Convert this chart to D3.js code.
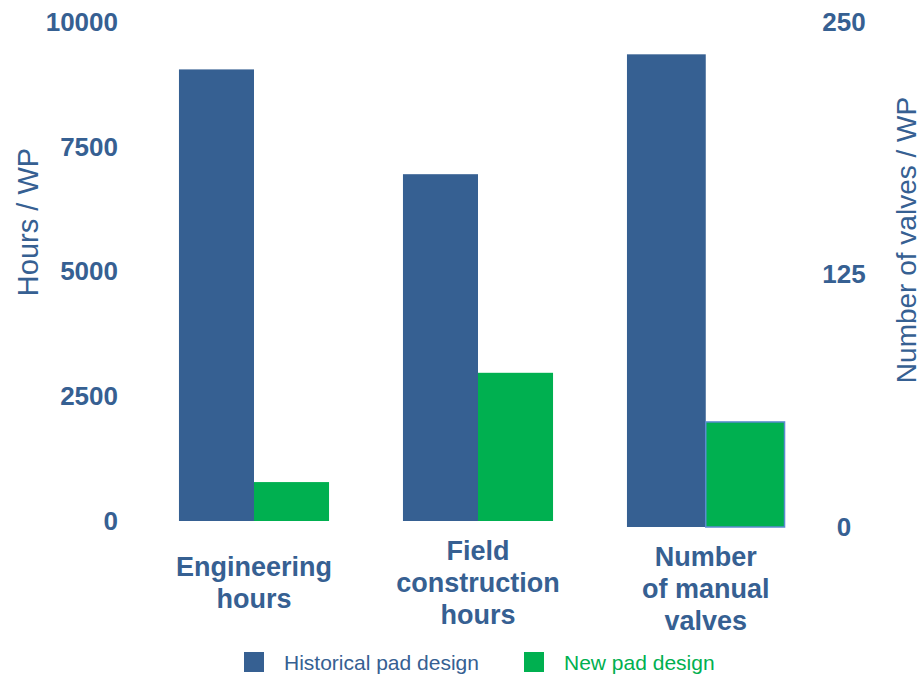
<!DOCTYPE html>
<html>
<head>
<meta charset="utf-8">
<script src="https://cdn.jsdelivr.net/npm/d3@7"></script>
<style>
  html, body { margin: 0; padding: 0; background: #fff; }
  svg { display: block; font-family: Arial, "Liberation Sans", sans-serif; }
</style>
</head>
<body>
<svg id="chart" width="921" height="675"></svg>
<script>
// Categories and their multi-line labels
const categories = ["Engineering hours", "Field construction hours", "Number of manual valves"];
const categoryLines = [["Engineering", "hours"], ["Field", "construction", "hours"], ["Number", "of manual", "valves"]];
// Which axis each category is measured against
const categoryAxis = ["left", "left", "right"];

// Series values
const seriesNames = ["Historical pad design", "New pad design"];
const historical = [9050, 6950, 234];
const newDesign = [780, 2970, 52];

// Tick labels
const leftTicks = [0, 2500, 5000, 7500, 10000];
const rightTicks = [0, 125, 250];

const blue = "#366092";
const green = "#00b050";
const font = "Arial, 'Liberation Sans', sans-serif";

const svg = d3.select("#chart");

const yLeft = d3.scaleLinear().domain([0, 10000]).range([521, 22]);
const yRight = d3.scaleLinear().domain([0, 250]).range([527, 22]);
const scaleFor = a => a === "left" ? yLeft : yRight;

const x = d3.scaleBand().domain(categories).range([142, 814])
  .paddingInner(0.33).paddingOuter(0.165);

const seriesValues = [historical, newDesign];
const seriesColors = [blue, green];

// Bars (the valve group, on the secondary axis, is drawn slightly wider)
categories.forEach((c, i) => {
  const y = scaleFor(categoryAxis[i]);
  const groupW = categoryAxis[i] === "right" ? x.bandwidth() * 1.05 : x.bandwidth();
  const xs = d3.scaleBand().domain(seriesNames).range([x(c), x(c) + groupW]);
  seriesNames.forEach((s, j) => {
    const v = seriesValues[j][i];
    const r = svg.append("rect")
      .attr("x", xs(s))
      .attr("y", y(v))
      .attr("width", xs.bandwidth())
      .attr("height", y(0) - y(v))
      .attr("fill", seriesColors[j]);
    if (categoryAxis[i] === "right" && j === 1) {
      r.attr("stroke", "#5b8bd0").attr("stroke-width", 1.5);
    }
  });
});

// Left axis (labels only)
const leftAxis = d3.axisLeft(yLeft).tickValues(leftTicks).tickFormat(d3.format("d"))
  .tickSize(0).tickPadding(0);
const gl = svg.append("g").attr("transform", "translate(118,0)").call(leftAxis);
gl.select(".domain").remove();
gl.selectAll("text")
  .attr("fill", blue).attr("font-size", 26).attr("font-weight", "bold")
  .attr("font-family", font);

// Right axis (labels only, centred)
const rightAxis = d3.axisRight(yRight).tickValues(rightTicks).tickFormat(d3.format("d"))
  .tickSize(0).tickPadding(0);
const gr = svg.append("g").attr("transform", "translate(844,0)").call(rightAxis);
gr.select(".domain").remove();
gr.selectAll("text")
  .attr("text-anchor", "middle")
  .attr("fill", blue).attr("font-size", 26).attr("font-weight", "bold")
  .attr("font-family", font);

// Axis titles
svg.append("text")
  .attr("transform", "translate(38,222) rotate(-90)")
  .attr("text-anchor", "middle")
  .attr("fill", blue).attr("font-size", 29)
  .text("Hours / WP");
svg.append("text")
  .attr("transform", "translate(916,240) rotate(-90)")
  .attr("text-anchor", "middle")
  .attr("fill", blue).attr("font-size", 28)
  .text("Number of valves / WP");

// Category labels, centred below each group
const lineH = 32;
categories.forEach((c, i) => {
  const base = scaleFor(categoryAxis[i])(0);
  const lines = categoryLines[i];
  const mid = base + 62;
  const groupW = categoryAxis[i] === "right" ? x.bandwidth() * 1.05 : x.bandwidth();
  const t = svg.append("text")
    .attr("text-anchor", "middle")
    .attr("fill", blue).attr("font-size", 27).attr("font-weight", "bold");
  lines.forEach((ln, k) => {
    t.append("tspan")
      .attr("x", x(c) + groupW / 2)
      .attr("y", mid + (k - (lines.length - 1) / 2) * lineH + 9)
      .text(ln);
  });
});

// Legend
const legendX = [244, 524];
seriesNames.forEach((s, j) => {
  svg.append("rect").attr("x", legendX[j]).attr("y", 652)
    .attr("width", 20).attr("height", 20).attr("fill", seriesColors[j]);
  svg.append("text").attr("x", legendX[j] + 40).attr("y", 670)
    .attr("fill", seriesColors[j]).attr("font-size", 21)
    .text(s);
});
</script>
</body>
</html>
